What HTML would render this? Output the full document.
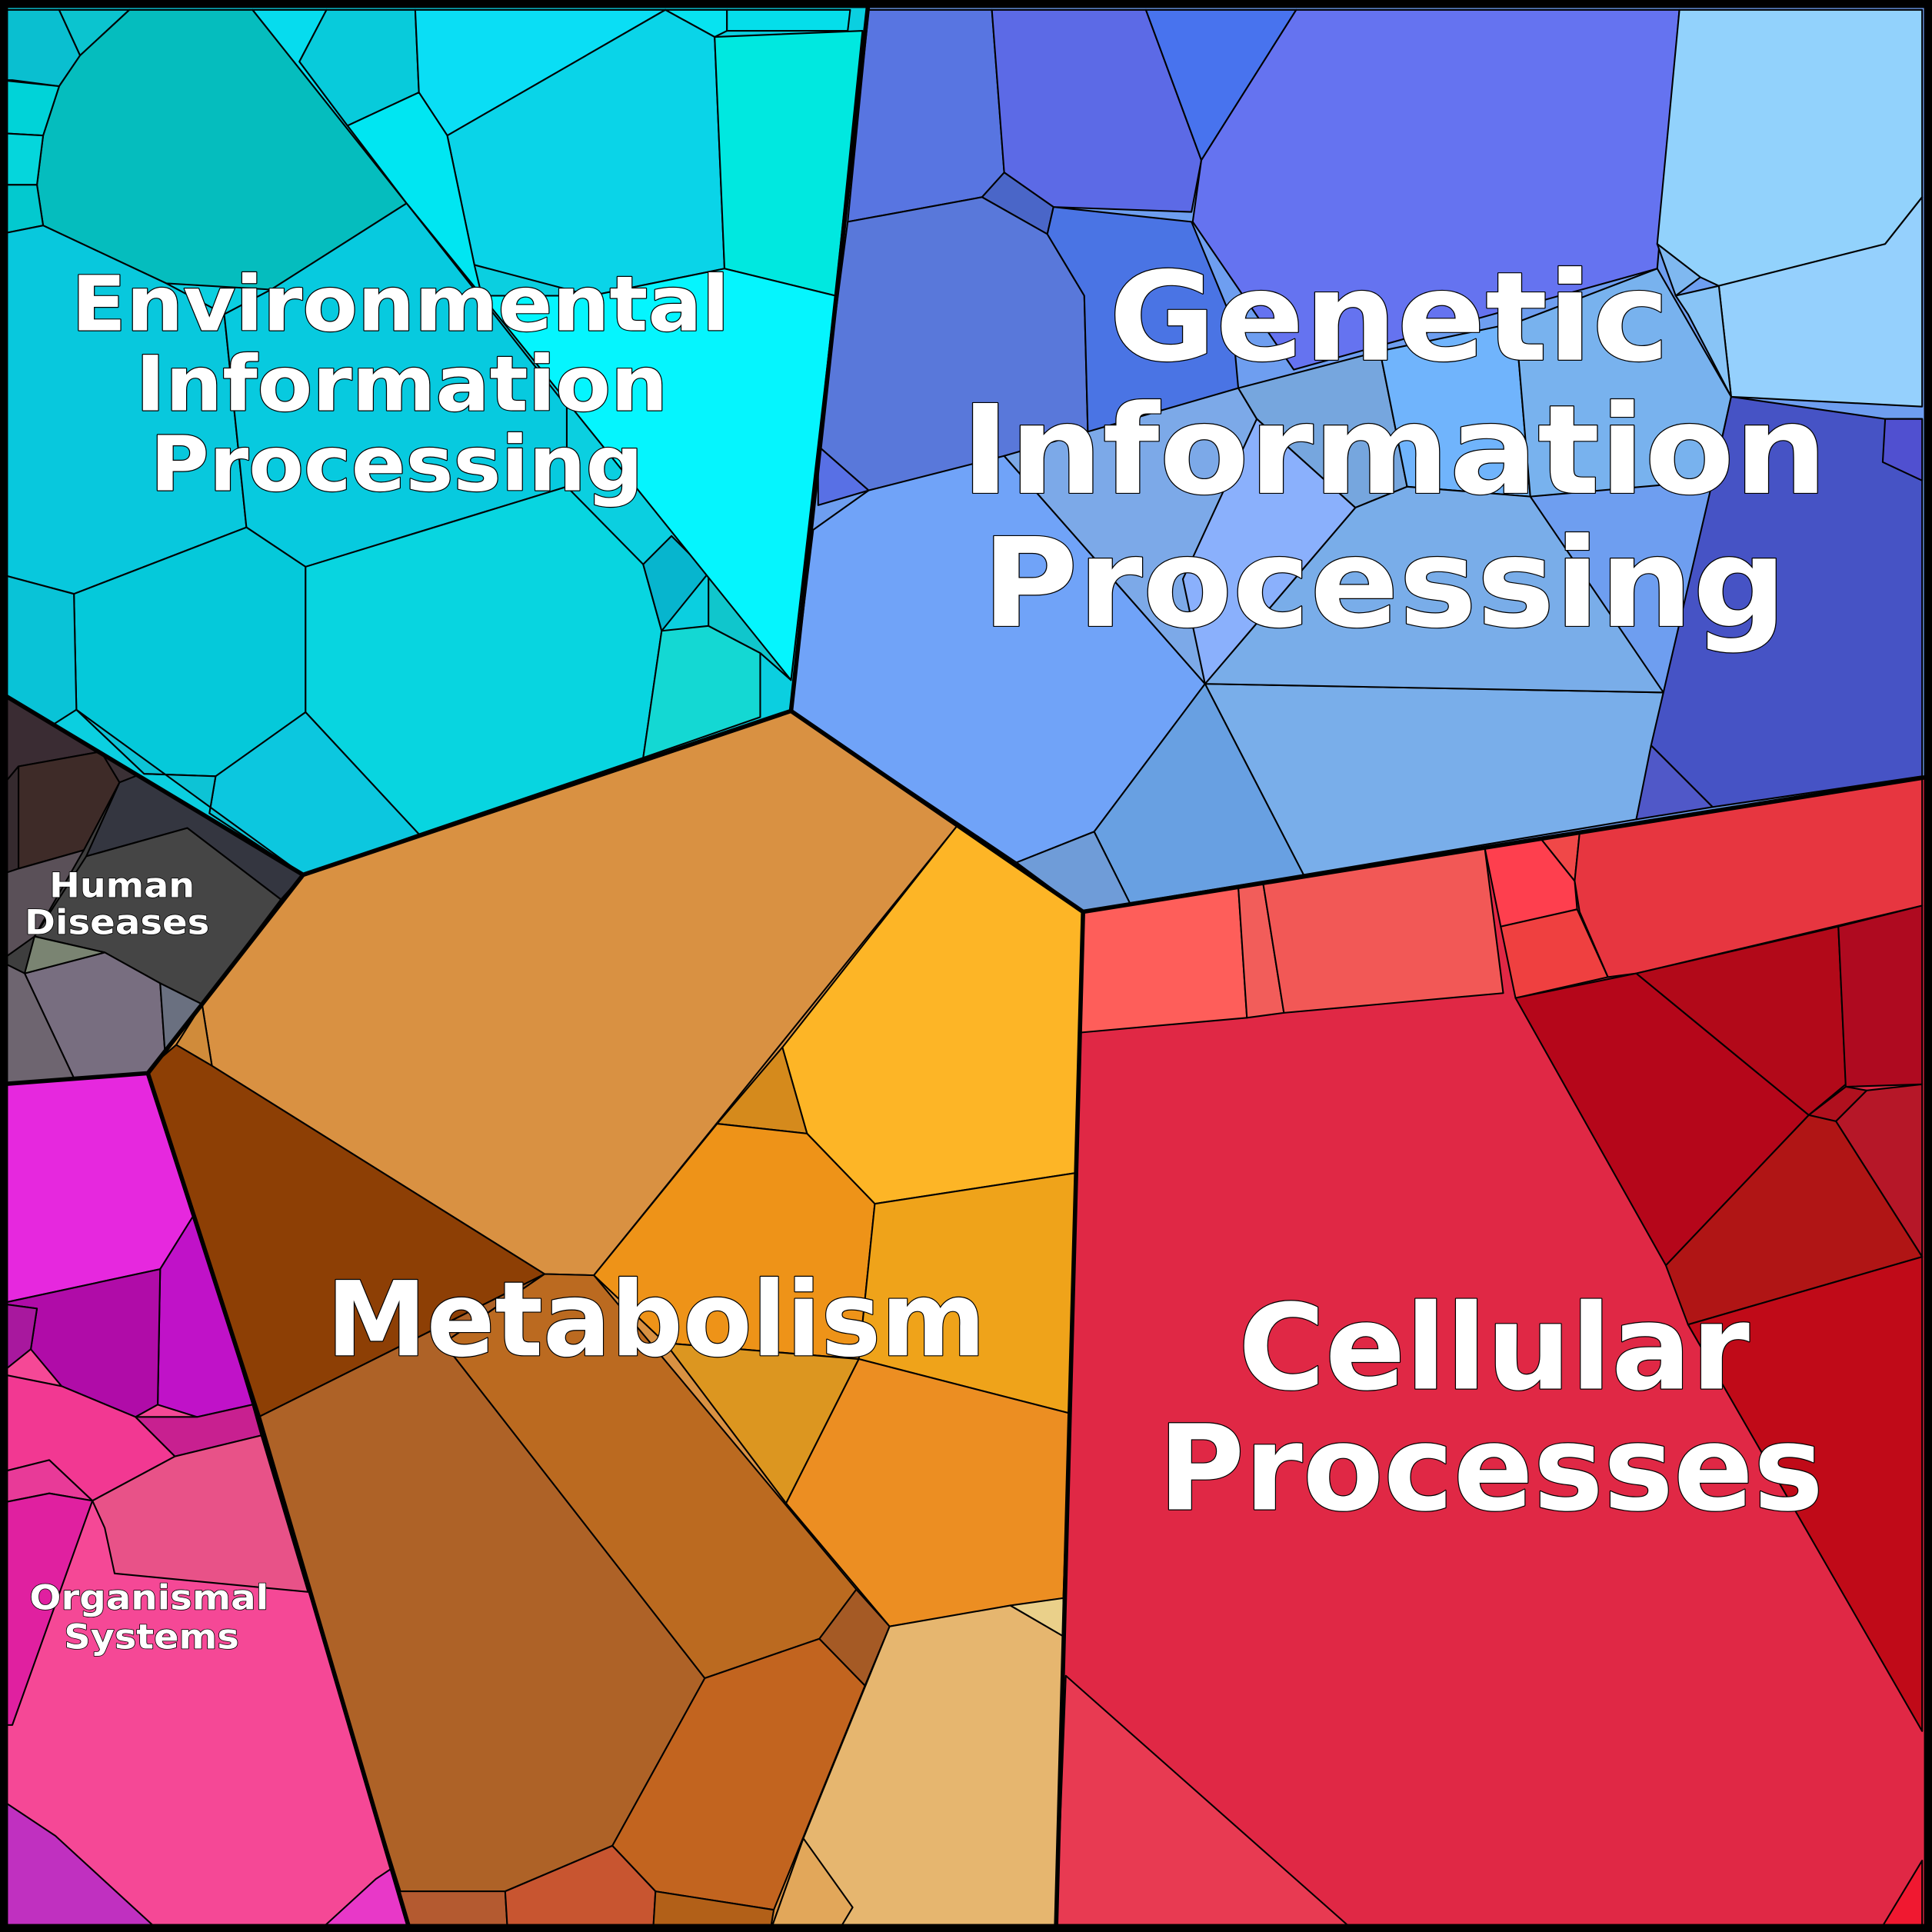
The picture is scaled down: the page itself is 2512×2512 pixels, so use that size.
<!DOCTYPE html>
<html><head><meta charset="utf-8"><style>
html,body{margin:0;padding:0;background:#fff;}
svg{display:block;}
text{font-family:"DejaVu Sans","Liberation Sans",sans-serif;font-weight:bold;fill:#fff;stroke:#000;paint-order:stroke;stroke-linejoin:round;}
</style></head><body>
<svg width="2512" height="2512" viewBox="0 0 1568 1568" xmlns="http://www.w3.org/2000/svg">
<defs>
<clipPath id="cEnv"><polygon points="0,0 705,0 642,577 246,710 0,562"/></clipPath>
<clipPath id="cGen"><polygon points="705,0 1568,0 1568,630 879,740 642,577"/></clipPath>
<clipPath id="cCel"><polygon points="879,740 1568,630 1568,1568 857,1568"/></clipPath>
<clipPath id="cMet"><polygon points="642,577 879,740 857,1568 333,1568 210,1150 120,871 164,815 246,710"/></clipPath>
<clipPath id="cHum"><polygon points="0,562 246,710 164,815 120,871 0,880"/></clipPath>
<clipPath id="cOrg"><polygon points="0,880 120,871 210,1150 333,1568 0,1568"/></clipPath>
</defs>
<g stroke="#000" stroke-width="1.3" stroke-linejoin="round">
<polygon points="0,0 705,0 642,577 246,710 0,562" fill="#0BCFE0"/>
<polygon points="705,0 1568,0 1568,630 879,740 642,577" fill="#6E9EF0"/>
<polygon points="879,740 1568,630 1568,1568 857,1568" fill="#E02845"/>
<polygon points="642,577 879,740 857,1568 333,1568 210,1150 120,871 164,815 246,710" fill="#D99142"/>
<polygon points="0,562 246,710 164,815 120,871 0,880" fill="#3E3E3E"/>
<polygon points="0,880 120,871 210,1150 333,1568 0,1568" fill="#F54896"/>

<g clip-path="url(#cEnv)">
<polygon points="0,8 48,8 65,45 48,70 10,65 0,65" fill="#0ABFD0"/>
<polygon points="48,8 105,8 65,45" fill="#0BC4CF"/>
<polygon points="105,8 205,8 330,165 220,235 135,230 35,183 30,150 35,110 48,70 65,45" fill="#05BDBE"/>
<polygon points="0,65 48,70 35,110 0,108" fill="#00D3D8"/>
<polygon points="0,108 35,110 30,150 0,150" fill="#05D6DC"/>
<polygon points="0,150 30,150 35,183 0,190" fill="#03C9CF"/>
<polygon points="0,190 35,183 135,230 182,255 200,428 60,482 0,466" fill="#08C8DD"/>
<polygon points="182,255 220,235 330,165 460,330 460,395 248,460 200,428" fill="#07CADF"/>
<polygon points="60,482 200,428 248,460 248,578 175,630 117,628 62,576" fill="#05C9DA"/>
<polygon points="248,460 460,395 522,458 537,512 522,615 340,677 248,578" fill="#08D5E0"/>
<polygon points="175,630 248,578 340,677 246,710 170,660" fill="#0CC7DF"/>
<polygon points="117,628 175,630 170,660 246,710 62,576" fill="#0DC3D5"/>
<polygon points="0,466 60,482 62,576 40,590 0,562" fill="#09C3D7"/>
<polygon points="522,458 545,435 575,465 537,512" fill="#07B5CE"/>
<polygon points="522,615 537,512 575,508 617,530 617,582" fill="#14D8D3"/>
<polygon points="575,465 642,552 617,530 575,508" fill="#10C6CC"/>
<polygon points="205,8 265,8 243,50 282,102 330,165" fill="#06DCEE"/>
<polygon points="265,8 337,8 340,75 282,102 243,50" fill="#08CBDB"/>
<polygon points="337,8 540,8 363,110 340,75" fill="#0ADEF5"/>
<polygon points="540,8 590,8 590,25 580,30" fill="#07E3F0"/>
<polygon points="590,8 690,8 688,25 590,25" fill="#05DEEA"/>
<polygon points="363,110 540,8 580,30 588,218 480,240 385,215" fill="#0AD4E8"/>
<polygon points="580,30 700,25 678,240 588,218" fill="#00E8E0"/>
<polygon points="391,240 480,240 588,218 678,240 642,552" fill="#05F5FE"/>
<polygon points="282,102 340,75 363,110 385,215 391,240 330,165" fill="#00E6F2"/>
</g>

<g clip-path="url(#cGen)">
<polygon points="705,8 805,8 815,140 797,160 688,180" fill="#5875E1"/>
<polygon points="805,8 930,8 975,130 967,172 855,168 815,140" fill="#5C6AE6"/>
<polygon points="930,8 1052,8 975,130" fill="#4873EE"/>
<polygon points="1052,8 1363,8 1345,218 1050,300 968,180 975,130" fill="#6573F0"/>
<polygon points="797,160 815,140 855,168 850,190" fill="#4A66C8"/>
<polygon points="688,180 797,160 850,190 880,240 883,355 705,398 664,362" fill="#5978DA"/>
<polygon points="850,190 855,168 967,180 1000,260 1005,315 883,355 880,240" fill="#4A74E4"/>
<polygon points="1363,8 1560,8 1560,160 1530,198 1395,232 1380,225 1345,198" fill="#92D2FC"/>
<polygon points="1395,232 1530,198 1560,160 1560,330 1405,322" fill="#95D0FD"/>
<polygon points="1345,198 1380,225 1360,240" fill="#7FB8F0"/>
<polygon points="1360,240 1395,232 1405,322 1370,255" fill="#88C4F6"/>
<polygon points="660,430 705,398 815,370 978,555 888,675 825,700 642,577" fill="#70A3F8"/>
<polygon points="978,555 1350,562 1328,665 1058,710" fill="#79AEEA"/>
<polygon points="888,675 978,555 1058,710 917,733" fill="#68A0E2"/>
<polygon points="825,700 888,675 917,733 879,740" fill="#6F9CD8"/>
<polygon points="815,370 1005,315 1020,340 1100,412 978,555" fill="#7CA9E8"/>
<polygon points="1005,315 1120,285 1142,395 1100,412 1020,340" fill="#76A6DE"/>
<polygon points="1120,285 1230,262 1242,403 1142,395" fill="#70B4FC"/>
<polygon points="1230,262 1345,218 1405,322 1390,390 1242,403" fill="#78B2EE"/>
<polygon points="1100,412 1142,395 1242,403 1350,562 978,555" fill="#79ADE9"/>
<polygon points="1020,340 1100,412 978,555 960,470" fill="#8AB0FC"/>
<polygon points="1405,322 1530,340 1560,340 1560,630 1390,655 1340,605 1350,562 1390,390" fill="#4653C5"/>
<polygon points="1340,605 1390,655 1328,665" fill="#5058C8"/>
<polygon points="1530,340 1560,340 1560,390 1528,375" fill="#5050D0"/>
<polygon points="664,362 705,398 664,410" fill="#5870E5"/>
</g>

<g clip-path="url(#cCel)">
<polygon points="879,740 1005,720 1012,826 877,838" fill="#FE5E5A"/>
<polygon points="1005,720 1025,716 1042,822 1012,826" fill="#F25D5A"/>
<polygon points="1025,716 1205,688 1220,806 1042,822" fill="#F25856"/>
<polygon points="1205,688 1250,680 1278,715 1280,738 1218,752" fill="#FE3F4E"/>
<polygon points="1250,680 1282,676 1278,715" fill="#F04848"/>
<polygon points="1218,752 1280,738 1305,793 1230,810" fill="#EF4040"/>
<polygon points="1278,715 1282,676 1560,630 1560,735 1328,790 1305,793 1282,740" fill="#E73640"/>
<polygon points="1230,810 1328,790 1468,905 1352,1027" fill="#B5061A"/>
<polygon points="1328,790 1492,752 1498,880 1468,905" fill="#B20919"/>
<polygon points="1492,752 1560,735 1560,880 1498,882" fill="#AF0A20"/>
<polygon points="1490,910 1515,885 1560,880 1560,1020" fill="#B61728"/>
<polygon points="1468,905 1498,882 1515,885 1490,910" fill="#B0101E"/>
<polygon points="1352,1027 1468,905 1490,910 1560,1020 1370,1075" fill="#B01515"/>
<polygon points="1370,1075 1560,1020 1560,1405" fill="#C00A18"/>
<polygon points="865,1360 1100,1568 857,1568" fill="#E83A52"/>
<polygon points="1525,1568 1560,1510 1560,1568" fill="#F01830"/>
</g>

<g clip-path="url(#cMet)">
<polygon points="164,815 246,710 642,577 777,670 482,1035 442,1034 172,865" fill="#D99142"/>
<polygon points="143,848 164,815 172,865" fill="#D08B3A"/>
<polygon points="115,872 143,848 172,865 442,1034 210,1150 205,1150" fill="#8D3F05"/>
<polygon points="205,1150 210,1150 442,1034 360,1090 572,1362 497,1498 410,1535 325,1535" fill="#AE6227"/>
<polygon points="360,1090 442,1034 482,1035 695,1290 665,1330 572,1362" fill="#BB6A20"/>
<polygon points="497,1498 572,1362 665,1330 702,1368 628,1550 532,1535" fill="#C2641F"/>
<polygon points="665,1330 695,1290 722,1320 702,1368" fill="#A55A25"/>
<polygon points="320,1535 410,1535 412,1568 320,1568" fill="#B45A30"/>
<polygon points="410,1535 497,1498 532,1535 530,1568 412,1568" fill="#C85530"/>
<polygon points="532,1535 628,1550 625,1568 530,1568" fill="#B26018"/>
<polygon points="777,670 879,740 873,952 710,977 655,920 635,850" fill="#FDB526"/>
<polygon points="582,912 635,850 655,920" fill="#D58A1C"/>
<polygon points="482,1035 582,912 655,920 710,977 697,1103 540,1090" fill="#EE9318"/>
<polygon points="710,977 873,952 868,1147 697,1103" fill="#EFA31A"/>
<polygon points="540,1090 697,1103 638,1220" fill="#DC9620"/>
<polygon points="638,1220 697,1103 868,1147 863,1297 722,1320" fill="#EC8E22"/>
<polygon points="722,1320 820,1303 863,1328 858,1568 625,1568 652,1492" fill="#E6B66F"/>
<polygon points="820,1303 863,1297 863,1328" fill="#EAD08A"/>
<polygon points="652,1492 692,1548 680,1568 625,1568" fill="#E2A75A"/>
</g>

<g clip-path="url(#cHum)">
<polygon points="0,562 82,610 15,622 0,640" fill="#3A2C33"/>
<polygon points="15,622 82,610 97,635 68,690 15,705" fill="#3E2B28"/>
<polygon points="0,640 15,622 15,705 0,710" fill="#352A2E"/>
<polygon points="82,610 115,628 97,635" fill="#3A3035"/>
<polygon points="97,635 115,628 246,710 228,730 152,672 70,695" fill="#343640"/>
<polygon points="28,760 70,695 152,672 228,730 164,815 130,798 85,773" fill="#454545"/>
<polygon points="0,710 15,705 68,690 28,760 0,780" fill="#5A5058"/>
<polygon points="20,790 85,773 130,798 135,870 60,875" fill="#786E80"/>
<polygon points="0,780 20,790 60,875 0,880" fill="#6E6570"/>
<polygon points="28,760 85,773 20,790" fill="#7A8472"/>
<polygon points="130,798 164,815 143,848 135,870" fill="#6A7080"/>
</g>

<g clip-path="url(#cOrg)">
<polygon points="0,880 120,871 158,985 130,1030 0,1058" fill="#E628DE"/>
<polygon points="130,1030 158,985 205,1140 160,1150 128,1140" fill="#C012C8"/>
<polygon points="0,1058 130,1030 128,1140 110,1150 50,1125 25,1095 30,1062" fill="#B00CA8"/>
<polygon points="0,1058 30,1062 25,1095 0,1115" fill="#A8189E"/>
<polygon points="0,1115 50,1125 110,1150 142,1182 75,1218 40,1185 0,1195" fill="#F23892"/>
<polygon points="110,1150 160,1150 205,1140 212,1165 142,1182" fill="#C82090"/>
<polygon points="0,1195 40,1185 75,1218 40,1212 0,1220" fill="#E83A98"/>
<polygon points="0,1220 40,1212 75,1218 10,1400 0,1400" fill="#E020A0"/>
<polygon points="142,1182 212,1165 250,1292 93,1277 85,1240 75,1218" fill="#E85288"/>
<polygon points="0,1460 45,1490 130,1568 0,1568" fill="#C030C0"/>
<polygon points="258,1568 305,1525 320,1515 340,1568" fill="#E838C8"/>
</g>
</g>

<g fill="none" stroke="#000" stroke-width="3.5" stroke-linejoin="round">
<polyline points="705,0 642,577 246,710 0,562"/>
<polyline points="642,577 879,740 1568,630"/>
<polyline points="879,740 857,1568"/>
<polyline points="246,710 164,815 120,871 0,880"/>
<polyline points="120,871 210,1150 333,1568"/>
</g>
<rect x="3" y="3" width="1562" height="1562" fill="none" stroke="#000" stroke-width="7"/>

<g stroke-width="1.5">
<text x="58" y="268" font-size="62" textLength="534" lengthAdjust="spacingAndGlyphs">Environmental</text>
<text x="110" y="333" font-size="62" textLength="432" lengthAdjust="spacingAndGlyphs">Information</text>
<text x="122" y="398" font-size="62" textLength="400" lengthAdjust="spacingAndGlyphs">Processing</text>
<text x="900" y="292" font-size="100" textLength="455" lengthAdjust="spacingAndGlyphs">Genetic</text>
<text x="780" y="400" font-size="100" textLength="703" lengthAdjust="spacingAndGlyphs">Information</text>
<text x="797" y="508" font-size="100" textLength="653" lengthAdjust="spacingAndGlyphs">Processing</text>
<text x="265" y="1100" font-size="84" textLength="535" lengthAdjust="spacingAndGlyphs">Metabolism</text>
<text x="1005" y="1127" font-size="96" textLength="415" lengthAdjust="spacingAndGlyphs">Cellular</text>
<text x="940" y="1225" font-size="96" textLength="540" lengthAdjust="spacingAndGlyphs">Processes</text>
<text x="40" y="728" font-size="28" stroke-width="1" textLength="118" lengthAdjust="spacingAndGlyphs">Human</text>
<text x="20" y="758" font-size="28" stroke-width="1" textLength="150" lengthAdjust="spacingAndGlyphs">Diseases</text>
<text x="24" y="1306" font-size="28" stroke-width="1" textLength="194" lengthAdjust="spacingAndGlyphs">Organismal</text>
<text x="52" y="1338" font-size="28" stroke-width="1" textLength="142" lengthAdjust="spacingAndGlyphs">Systems</text>
</g>
</svg>
</body></html>
